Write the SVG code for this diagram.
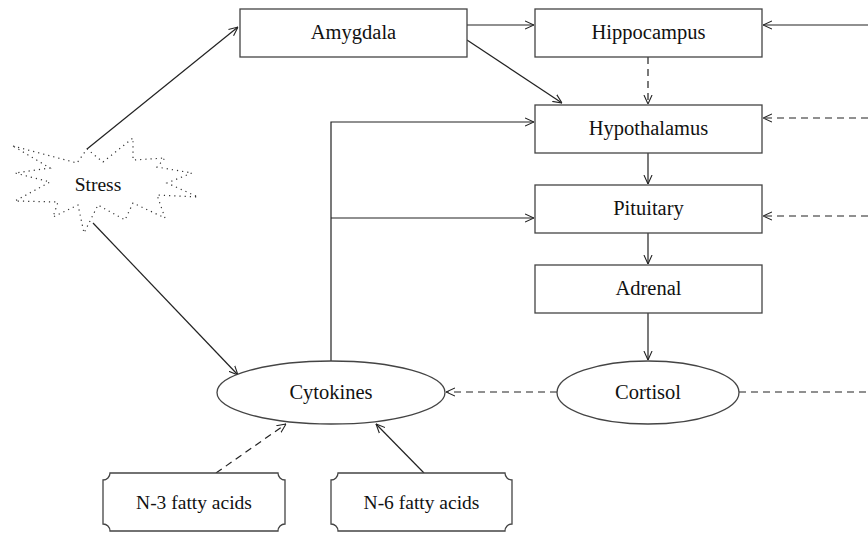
<svg xmlns="http://www.w3.org/2000/svg" width="868" height="540" viewBox="0 0 868 540">
<defs>
<style>
.box{fill:#fff;stroke:#444;stroke-width:1.3}
.lbl{font-family:"Liberation Serif","Times New Roman",serif;font-size:20.5px;fill:#111;text-anchor:middle}
.sm{font-size:19.5px}
.ln{fill:none;stroke:#222;stroke-width:1.2}
.dash{stroke-dasharray:7 5}
.star{fill:none;stroke:#333;stroke-width:1.2;stroke-dasharray:1.2 4}
</style>
<marker id="arr" markerUnits="userSpaceOnUse" viewBox="0 0 10 10" refX="10" refY="5" markerWidth="9" markerHeight="10" orient="auto">
<path d="M0,0.5 L10,5 L0,9.5" fill="none" stroke="#222" stroke-width="1.2"/>
</marker>
</defs>
<rect width="868" height="540" fill="#fff"/>

<g id="connectors">
<path class="ln" d="M87,149 L238,27" marker-end="url(#arr)"/>
<path class="ln" d="M93,223 L238,375" marker-end="url(#arr)"/>
<path class="ln" d="M467,25 L534,25" marker-end="url(#arr)"/>
<path class="ln" d="M467,40 L562,103" marker-end="url(#arr)"/>
<path class="ln dash" d="M648,57 L648,104" marker-end="url(#arr)"/>
<path class="ln" d="M648,153 L648,184" marker-end="url(#arr)"/>
<path class="ln" d="M648,233 L648,264" marker-end="url(#arr)"/>
<path class="ln" d="M648,313 L648,360" marker-end="url(#arr)"/>
<path class="ln" d="M331,361 L331,122 L534,122" marker-end="url(#arr)"/>
<path class="ln" d="M331,218 L534,218" marker-end="url(#arr)"/>
<path class="ln" d="M868,25 L763,25" marker-end="url(#arr)"/>
<path class="ln dash" d="M868,118 L763,118" marker-end="url(#arr)"/>
<path class="ln dash" d="M868,216 L763,216" marker-end="url(#arr)"/>
<path class="ln dash" d="M557,392 L446,392" marker-end="url(#arr)"/>
<path class="ln dash" d="M739,392 L868,392"/>
<path class="ln dash" d="M216,473 L286,424" marker-end="url(#arr)"/>
<path class="ln" d="M424,473 L376,424" marker-end="url(#arr)"/>
</g>

<g id="stress">
<path class="star" d="M13,146 L77,163 L87,149 L103,162 L133,138 L133,160 L165,158 L157,167 L192,173 L167,183 L198,197 L157,195 L165,218 L133,203 L125,220 L98,205 L84,233 L78,205 L53,217 L58,202 L15,201 L50,182 L15,173 L50,168 Z"/>
<text class="lbl sm" x="98" y="191">Stress</text>
</g>

<g id="amygdala">
<rect class="box" x="240" y="9" width="227" height="48"/>
<text class="lbl" x="353.5" y="39">Amygdala</text>
</g>

<g id="hippocampus">
<rect class="box" x="535" y="9" width="227" height="48"/>
<text class="lbl" x="648.5" y="39">Hippocampus</text>
</g>

<g id="hypothalamus">
<rect class="box" x="535" y="105" width="227" height="48"/>
<text class="lbl" x="648.5" y="135">Hypothalamus</text>
</g>

<g id="pituitary">
<rect class="box" x="535" y="185" width="227" height="48"/>
<text class="lbl" x="648.5" y="215">Pituitary</text>
</g>

<g id="adrenal">
<rect class="box" x="535" y="265" width="227" height="48"/>
<text class="lbl" x="648.5" y="295">Adrenal</text>
</g>

<g id="cytokines">
<ellipse class="box" cx="331" cy="392.5" rx="114" ry="31.5"/>
<text class="lbl" x="331" y="399">Cytokines</text>
</g>

<g id="cortisol">
<ellipse class="box" cx="648" cy="392.5" rx="91" ry="31.5"/>
<text class="lbl" x="648" y="399">Cortisol</text>
</g>

<g id="n3">
<path class="box" d="M110,473 L278,473 A7,7 0 0 0 285,480 L285,524 A7,7 0 0 0 278,531 L110,531 A7,7 0 0 0 103,524 L103,480 A7,7 0 0 0 110,473 Z"/>
<text class="lbl sm" x="194" y="509">N-3 fatty acids</text>
</g>

<g id="n6">
<path class="box" d="M338,473 L505,473 A7,7 0 0 0 512,480 L512,524 A7,7 0 0 0 505,531 L338,531 A7,7 0 0 0 331,524 L331,480 A7,7 0 0 0 338,473 Z"/>
<text class="lbl sm" x="421.5" y="509">N-6 fatty acids</text>
</g>
</svg>
